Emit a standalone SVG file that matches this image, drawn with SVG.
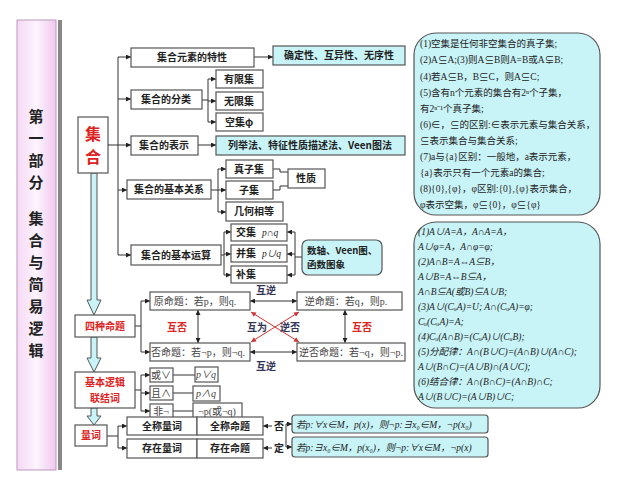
<svg xmlns="http://www.w3.org/2000/svg" width="625" height="478" viewBox="0 0 625 478">
<defs>
<linearGradient id="pk" x1="0" x2="1"><stop offset="0" stop-color="#f6d8f6"/><stop offset="0.5" stop-color="#fdf4fd"/><stop offset="1" stop-color="#f0c8f0"/></linearGradient>
<marker id="a" viewBox="0 0 6 6" refX="6" refY="3" markerWidth="5" markerHeight="5" orient="auto-start-reverse"><path d="M0,0L6,3L0,6z" fill="#222"/></marker>
<marker id="r" viewBox="0 0 6 6" refX="6" refY="3" markerWidth="5" markerHeight="5" orient="auto-start-reverse"><path d="M0,0L6,3L0,6z" fill="#c33"/></marker>
</defs>
<style>
.b{fill:#fff;stroke:#555;stroke-width:1.2}
.c{fill:#c8f4f8;stroke:#555;stroke-width:1.2}
.t{font-family:"Noto Sans CJK SC",sans-serif;font-size:10px;font-weight:bold;fill:#222;text-anchor:middle}
.g{font-family:"Liberation Serif","Noto Sans CJK SC",serif;font-size:10px;fill:#444;text-anchor:middle}
.m{font-family:"Liberation Serif","Noto Sans CJK SC",serif;font-size:9.5px;fill:#222}
.rd{font-family:"Noto Sans CJK SC",sans-serif;font-weight:bold;fill:#d22;text-anchor:middle}
.bl{font-family:"Noto Sans CJK SC",sans-serif;font-size:10px;font-weight:bold;fill:#335;text-anchor:middle}
.l{stroke:#333;stroke-width:1;fill:none}
</style>
<rect width="625" height="478" fill="#fff"/>
<g id="side">
<rect x="17" y="20" width="39" height="450" fill="url(#pk)" stroke="#b9b"/>
<rect x="58" y="20" width="4" height="450" fill="#888"/>
<text font-family="Noto Sans CJK SC,sans-serif" font-size="15" font-weight="bold" fill="#222" text-anchor="middle"><tspan x="36" y="122">第</tspan><tspan x="36" y="144">一</tspan><tspan x="36" y="166">部</tspan><tspan x="36" y="188">分</tspan><tspan x="36" y="224">集</tspan><tspan x="36" y="246">合</tspan><tspan x="36" y="268">与</tspan><tspan x="36" y="290">简</tspan><tspan x="36" y="312">易</tspan><tspan x="36" y="334">逻</tspan><tspan x="36" y="356">辑</tspan></text>
</g>
<g id="flow">
<path d="M91,173V300H87L94,315L101,300H97V173z" fill="#c8f4f8" stroke="#555"/>
<path d="M91,337V358H87L94,372L101,358H97V337z" fill="#c8f4f8" stroke="#555"/>
<path d="M91,408V416H87L94,425L101,416H97V408z" fill="#c8f4f8" stroke="#555"/>
</g>
<g id="jihe"><rect class="b" x="78" y="117" width="30" height="56"/><text class="rd" font-size="16" x="93" y="140">集</text><text class="rd" font-size="16" x="93" y="163">合</text></g>
<g id="connectors">
<path class="l" d="M108,145H118M118,57V255"/>
<path class="l" marker-end="url(#a)" d="M118,57H131"/><path class="l" marker-end="url(#a)" d="M118,99H131"/><path class="l" marker-end="url(#a)" d="M118,145H131"/><path class="l" marker-end="url(#a)" d="M118,190H127"/><path class="l" marker-end="url(#a)" d="M118,255H131"/>
<path class="l" marker-end="url(#a)" d="M254,57H273"/>
<path class="l" d="M202,100H208M208,79V122"/><path class="l" marker-end="url(#a)" d="M208,79H216"/><path class="l" marker-end="url(#a)" d="M208,101H216"/><path class="l" marker-end="url(#a)" d="M208,122H216"/>
<path class="l" marker-end="url(#a)" d="M198,145H216"/>
<path class="l" d="M211,190H218M218,169V212"/><path class="l" marker-end="url(#a)" d="M218,169H226"/><path class="l" marker-end="url(#a)" d="M218,190H226"/><path class="l" marker-end="url(#a)" d="M218,212H226"/>
<path class="l" d="M273,169H280V172H288M273,190H280V186H288"/>
<path class="l" d="M221,255H224M224,232V275"/><path class="l" marker-end="url(#a)" d="M224,232H231"/><path class="l" marker-end="url(#a)" d="M224,254H231"/><path class="l" marker-end="url(#a)" d="M224,275H231"/>
<path class="l" d="M302,257H295M295,232V275"/><path class="l" marker-end="url(#a)" d="M295,232H287"/><path class="l" marker-end="url(#a)" d="M295,254H287"/><path class="l" marker-end="url(#a)" d="M295,275H287"/>
<path class="l" d="M135,326H141M141,301V352"/><path class="l" marker-end="url(#a)" d="M141,301H150"/><path class="l" marker-end="url(#a)" d="M141,352H150"/>
<path class="l" marker-start="url(#a)" marker-end="url(#a)" d="M250,301H297"/><path class="l" marker-start="url(#a)" marker-end="url(#a)" d="M250,352H297"/>
<path class="l" marker-start="url(#a)" marker-end="url(#a)" d="M198,310V343"/><path class="l" marker-start="url(#a)" marker-end="url(#a)" d="M345,310V343"/>
<path stroke="#c33" fill="none" marker-start="url(#r)" marker-end="url(#r)" d="M251,312L299,342"/><path stroke="#c33" fill="none" marker-start="url(#r)" marker-end="url(#r)" d="M251,342L299,312"/>
<path class="l" d="M135,390H141M141,375V411"/><path class="l" marker-end="url(#a)" d="M141,375H150"/><path class="l" marker-end="url(#a)" d="M141,393H150"/><path class="l" marker-end="url(#a)" d="M141,411H150"/>
<path class="l" d="M173,375H195M173,393H193M173,411H193"/>
<path class="l" d="M107,436H118M118,426V448"/><path class="l" marker-end="url(#a)" d="M118,426H127"/><path class="l" marker-end="url(#a)" d="M118,448H127"/>
<path class="l" marker-end="url(#a)" d="M272,426H263"/><path class="l" marker-end="url(#a)" d="M272,448H263"/>
<path class="l" d="M286,436V424M286,436V447"/><path class="l" marker-end="url(#a)" d="M286,424H292"/><path class="l" marker-end="url(#a)" d="M286,447H292"/>
</g>
<g id="n1"><rect class="b" x="131" y="48" width="123" height="19"/><text class="t" x="192" y="61">集合元素的特性</text></g>
<g id="n2"><rect class="c" x="273" y="46" width="132" height="19"/><text class="t" x="339" y="59">确定性、互异性、无序性</text></g>
<g id="n3"><rect class="b" x="131" y="90" width="71" height="19"/><text class="t" x="166" y="103">集合的分类</text></g>
<g id="n4"><rect class="b" x="216" y="70" width="47" height="18"/><text class="t" x="239" y="83">有限集</text></g>
<g id="n5"><rect class="b" x="216" y="92" width="47" height="18"/><text class="t" x="239" y="105">无限集</text></g>
<g id="n6"><rect class="b" x="216" y="113" width="47" height="18"/><text class="t" x="239" y="126">空集φ</text></g>
<g id="n7"><rect class="b" x="131" y="136" width="67" height="19"/><text class="t" x="164" y="149">集合的表示</text></g>
<g id="n8"><rect class="c" x="216" y="136" width="189" height="19"/><text class="t" x="310" y="149">列举法、特征性质描述法、Veen图法</text></g>
<g id="n9"><rect class="b" x="127" y="180" width="84" height="19"/><text class="t" x="169" y="193">集合的基本关系</text></g>
<g id="n10"><rect class="b" x="226" y="160" width="47" height="18"/><text class="t" x="249" y="173">真子集</text></g>
<g id="n11"><rect class="b" x="226" y="181" width="47" height="18"/><text class="t" x="249" y="194">子集</text></g>
<g id="n12"><rect class="b" x="226" y="202" width="57" height="19"/><text class="t" x="254" y="215">几何相等</text></g>
<g id="n13"><rect class="b" x="288" y="169" width="37" height="19"/><text class="t" x="306" y="182">性质</text></g>
<g id="n14"><rect class="b" x="131" y="245" width="90" height="20"/><text class="t" x="176" y="259">集合的基本运算</text></g>
<g id="n15"><rect class="b" x="231" y="224" width="56" height="17"/><text class="t" x="246" y="236">交集</text><text class="m" x="262" y="236" font-style="italic">p∩q</text></g>
<g id="n16"><rect class="b" x="231" y="245" width="56" height="17"/><text class="t" x="246" y="257">并集</text><text class="m" x="262" y="257" font-style="italic">p∪q</text></g>
<g id="n17"><rect class="b" x="231" y="266" width="56" height="17"/><text class="t" x="246" y="278">补集</text></g>
<g id="n18"><rect class="c" x="302" y="240" width="80" height="35" rx="6"/><text class="t" style="font-size:9.5px;text-anchor:start" x="307" y="254">数轴、Veen图、</text><text class="t" style="font-size:9.5px;text-anchor:start" x="307" y="268">函数图象</text></g>
<g id="box1"><rect class="c" x="414" y="33" width="186" height="182" rx="22"/>
<text class="m"><tspan x="420" y="47">(1)空集是任何非空集合的真子集;</tspan><tspan x="420" y="63">(2)A⊆A;(3)则A⊆B则A=B或A⊊B;</tspan><tspan x="420" y="80">(4)若A⊆B，B⊆C，则A⊆C;</tspan><tspan x="420" y="96">(5)含有n个元素的集合有2ⁿ个子集，</tspan><tspan x="420" y="112">有2ⁿ⁻¹个真子集;</tspan><tspan x="420" y="128">(6)∈，⊆的区别:∈表示元素与集合关系，</tspan><tspan x="420" y="144">⊆表示集合与集合关系;</tspan><tspan x="420" y="160">(7)a与{a}区别：一般地，a表示元素，</tspan><tspan x="420" y="176">{a}表示只有一个元素a的集合;</tspan><tspan x="420" y="192">(8){0},{φ}，φ区别:{0},{φ}表示集合，</tspan><tspan x="420" y="208">φ表示空集，φ⊆{0}，φ⊆{φ}</tspan></text></g>
<g id="box2"><rect class="c" x="414" y="222" width="186" height="186" rx="22"/>
<text class="m" font-style="italic"><tspan x="418" y="235">(1)A∪A=A，A∩A=A，</tspan><tspan x="418" y="250">A∪φ=A，A∩φ=φ;</tspan><tspan x="418" y="265">(2)A∩B=A⇔A⊆B，</tspan><tspan x="418" y="280">A∪B=A⇔B⊆A，</tspan><tspan x="418" y="295">A∩B⊆A(或B)⊆A∪B;</tspan><tspan x="418" y="310">(3)A∪(CᵤA)=U;  A∩(CᵤA)=φ;</tspan><tspan x="418" y="325">Cᵤ(CᵤA)=A;</tspan><tspan x="418" y="340">(4)Cᵤ(A∩B)=(CᵤA)∪(CᵤB);</tspan><tspan x="418" y="355">(5)分配律：A∩(B∪C)=(A∩B)∪(A∩C);</tspan><tspan x="418" y="370">A∪(B∩C)=(A∪B)∩(A∪C);</tspan><tspan x="418" y="385">(6)结合律：A∩(B∩C)=(A∩B)∩C;</tspan><tspan x="418" y="400">A∪(B∪C)=(A∪B)∪C;</tspan></text></g>
<g id="sizhong"><rect class="b" x="75" y="315" width="60" height="22"/><text class="rd" font-size="10" x="105" y="330">四种命题</text></g>
<g id="p1"><rect class="b" x="150" y="292" width="100" height="18"/><text class="g" x="195" y="305">原命题：若p，则q.</text></g>
<g id="p2"><rect class="b" x="297" y="292" width="105" height="18"/><text class="g" x="346" y="305">逆命题：若q，则p.</text></g>
<g id="p3"><rect class="b" x="150" y="343" width="100" height="18"/><text class="g" x="198" y="356">否命题：若¬p，则¬q.</text></g>
<g id="p4"><rect class="b" x="297" y="343" width="108" height="18"/><text class="g" x="351" y="356">逆否命题：若¬q，则¬p.</text></g>
<g id="labels"><text class="bl" x="266" y="294">互逆</text><text class="bl" x="266" y="370">互逆</text><text class="rd" font-size="10" x="177" y="331">互否</text><text class="rd" font-size="10" x="362" y="331">互否</text><text class="bl" x="257" y="331">互为</text><text class="bl" x="290" y="331">逆否</text></g>
<g id="luoji"><rect class="b" x="75" y="372" width="60" height="36"/><text class="rd" font-size="10" x="105" y="386">基本逻辑</text><text class="rd" font-size="10" x="105" y="402">联结词</text></g>
<g id="o1"><rect class="b" x="150" y="368" width="23" height="14"/><text class="g" x="161" y="379">或∨</text></g>
<g id="o2"><rect class="b" x="195" y="367" width="23" height="15"/><text class="g" x="206" y="378" font-style="italic">p∨q</text></g>
<g id="o3"><rect class="b" x="150" y="386" width="23" height="14"/><text class="g" x="161" y="397">且∧</text></g>
<g id="o4"><rect class="b" x="193" y="386" width="27" height="15"/><text class="g" x="206" y="397" font-style="italic">p∧q</text></g>
<g id="o5"><rect class="b" x="150" y="404" width="23" height="14"/><text class="g" x="161" y="415">非¬</text></g>
<g id="o6"><rect class="b" x="193" y="403" width="49" height="16"/><text class="g" x="217" y="415">¬p(或¬q)</text></g>
<g id="liangci"><rect class="b" x="75" y="425" width="32" height="21"/><text class="rd" font-size="10" x="91" y="439">量词</text></g>
<g id="q1"><rect class="b" x="127" y="417" width="70" height="18"/><text class="t" x="162" y="430">全称量词</text></g>
<g id="q2"><rect class="b" x="197" y="417" width="66" height="18"/><text class="t" x="230" y="430">全称命题</text></g>
<g id="q3"><rect class="b" x="127" y="439" width="70" height="19"/><text class="t" x="162" y="452">存在量词</text></g>
<g id="q4"><rect class="b" x="197" y="439" width="66" height="19"/><text class="t" x="230" y="452">存在命题</text></g>
<text class="t" x="279" y="430">否</text><text class="t" x="279" y="452">定</text>
<g id="f1"><rect class="c" x="292" y="415" width="196" height="18" rx="3"/><text class="m" x="296" y="428" font-style="italic">若p:∀x∈M，p(x)，则¬p:∃x₀∈M，¬p(x₀)</text></g>
<g id="f2"><rect class="c" x="292" y="437" width="196" height="20" rx="3"/><text class="m" x="296" y="451" font-style="italic">若p:∃x₀∈M，p(x₀)，则¬p:∀x∈M，¬p(x)</text></g>
</svg>
